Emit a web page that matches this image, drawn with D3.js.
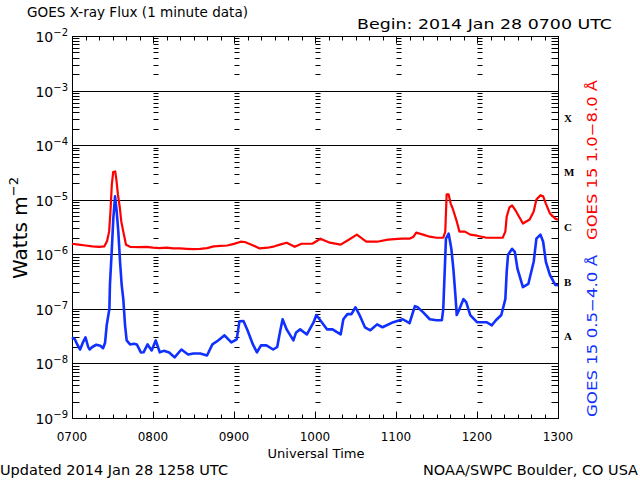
<!DOCTYPE html>
<html>
<head>
<meta charset="utf-8">
<script src="https://cdn.jsdelivr.net/npm/d3@7.9.0/dist/d3.min.js"></script>
<style>
  html, body { margin: 0; padding: 0; background: #fff; }
  svg { display: block; font-family: "DejaVu Sans", sans-serif; }
</style>
</head>
<body>
<svg id="chart" width="640" height="480"></svg>
<script>
// minutes after 0700 UTC, 2014 Jan 28
const longMinutes = [0, 5, 10, 15, 20, 24, 26, 27.5, 28.5, 29.5, 30.5, 32, 33, 34, 35.5, 36.5, 38, 40, 43, 50, 55, 60, 65, 70, 75, 80, 85, 90, 95, 100, 105, 110, 115, 120, 125, 128, 133, 139, 145, 150, 154, 159, 165, 170, 178, 184, 191, 199, 205, 211, 218, 226, 234, 244, 250, 253, 255, 260, 265, 270, 275, 276.5, 277.5, 279, 280.5, 282, 285, 287, 291, 295, 300, 307, 313, 319, 321, 322, 324, 326, 329, 334, 339, 342, 344, 347, 349, 351, 354, 358, 360];
const longFlux = [1.56e-6, 1.5e-6, 1.45e-6, 1.4e-6, 1.37e-6, 1.4e-6, 1.75e-6, 2.6e-6, 6.1e-6, 1.9e-5, 3.2e-5, 3.3e-5, 2.2e-5, 1.25e-5, 6.9e-6, 4.0e-6, 2.6e-6, 1.5e-6, 1.37e-6, 1.35e-6, 1.37e-6, 1.32e-6, 1.3e-6, 1.32e-6, 1.28e-6, 1.28e-6, 1.26e-6, 1.24e-6, 1.26e-6, 1.3e-6, 1.4e-6, 1.43e-6, 1.45e-6, 1.55e-6, 1.7e-6, 1.68e-6, 1.5e-6, 1.28e-6, 1.32e-6, 1.4e-6, 1.5e-6, 1.63e-6, 1.37e-6, 1.56e-6, 1.56e-6, 1.93e-6, 1.63e-6, 1.5e-6, 1.85e-6, 2.29e-6, 1.7e-6, 1.7e-6, 1.85e-6, 1.93e-6, 1.93e-6, 2.1e-6, 2.49e-6, 2.29e-6, 2.1e-6, 2.01e-6, 2.01e-6, 2.6e-6, 1.25e-5, 1.25e-5, 8.5e-6, 6.9e-6, 4.0e-6, 2.6e-6, 2.6e-6, 2.29e-6, 2.19e-6, 2.01e-6, 2.01e-6, 2.01e-6, 2.6e-6, 4.9e-6, 7.2e-6, 7.85e-6, 6.1e-6, 3.66e-6, 4.33e-6, 6.1e-6, 1.01e-5, 1.2e-5, 1.15e-5, 8.5e-6, 5.6e-6, 4.5e-6, 4.3e-6];

const shortMinutes = [0, 2, 4, 6, 8, 10, 12, 13, 15, 18, 21, 23, 24.5, 25.7, 27.7, 28.1, 29.4, 30.6, 31.9, 33.1, 34.3, 35.6, 36.8, 38, 39.3, 40.5, 43, 46, 48, 51, 53, 56, 59, 62, 65, 68, 72, 76, 81, 86, 90, 95, 100, 104, 108, 113, 118, 122, 124, 127, 130, 134, 137, 140, 144, 149, 152, 154, 156, 159, 164, 166, 169, 174, 179, 181, 185, 189, 193, 199, 201, 204, 207, 210, 213, 217, 221, 226, 230, 238, 245, 250, 254, 256, 260, 265, 270, 274, 275, 277, 279, 281, 282.5, 284, 285, 287, 290, 292, 295, 300, 307, 311, 314, 318, 321, 322, 323, 326, 328, 330, 334, 338, 342, 344, 347, 349, 351, 354, 358, 360];
const shortFlux = [3.0e-8, 2.8e-8, 2.2e-8, 1.8e-8, 2.4e-8, 3.0e-8, 2.0e-8, 1.8e-8, 2.0e-8, 2.2e-8, 2.1e-8, 1.9e-8, 2.4e-8, 5.0e-8, 1.0e-7, 2.74e-7, 1.11e-6, 4.5e-6, 1.15e-5, 6.1e-6, 2.6e-6, 7.3e-7, 2.74e-7, 1.51e-7, 5.0e-8, 2.64e-8, 2.23e-8, 2.3e-8, 2.23e-8, 1.59e-8, 1.6e-8, 2.23e-8, 1.73e-8, 2.64e-8, 1.6e-8, 1.7e-8, 1.59e-8, 1.29e-8, 1.8e-8, 1.46e-8, 1.52e-8, 1.52e-8, 1.4e-8, 2.23e-8, 2.6e-8, 3.27e-8, 2.43e-8, 2.76e-8, 5.9e-8, 6.0e-8, 4.05e-8, 2.23e-8, 1.59e-8, 2.14e-8, 2.14e-8, 1.8e-8, 2.0e-8, 3.7e-8, 6.45e-8, 4.2e-8, 2.64e-8, 3.7e-8, 4.2e-8, 3.4e-8, 5.7e-8, 7.7e-8, 5.7e-8, 4.2e-8, 4.2e-8, 3.4e-8, 6.45e-8, 8.0e-8, 8.0e-8, 1.07e-7, 7.7e-8, 4.6e-8, 4.05e-8, 5.2e-8, 4.6e-8, 5.7e-8, 6.45e-8, 5.45e-8, 1.12e-7, 1.07e-7, 8.7e-8, 6.45e-8, 6.2e-8, 6.2e-8, 9.9e-8, 1.93e-6, 2.39e-6, 1.26e-6, 5.4e-7, 1.79e-7, 7.7e-8, 9.9e-8, 1.51e-7, 1.33e-7, 7.7e-8, 5.7e-8, 5.7e-8, 5.0e-8, 6.2e-8, 7.7e-8, 1.51e-7, 4.75e-7, 9.8e-7, 1.26e-6, 1.11e-6, 5.4e-7, 2.51e-7, 2.86e-7, 7.3e-7, 1.93e-6, 2.29e-6, 1.7e-6, 7.3e-7, 4.2e-7, 2.74e-7, 2.7e-7];

const hourLabels = ['0700', '0800', '0900', '1000', '1100', '1200', '1300'];
const decades = [-9, -8, -7, -6, -5, -4, -3, -2];
const flareClasses = ['A', 'B', 'C', 'M', 'X'];

const svg = d3.select('#chart');
const plotL = 72, plotR = 558, plotT = 36, plotB = 418;

const x = d3.scaleLinear().domain([0, 360]).range([plotL, plotR]);
const y = d3.scaleLog().domain([1e-9, 1e-2]).range([plotB, plotT]);

// titles
svg.append('text').attr('x', 27).attr('y', 17).attr('font-size', 14)
  .attr('textLength', 221).attr('lengthAdjust', 'spacingAndGlyphs')
  .text('GOES X-ray Flux (1 minute data)');
svg.append('text').attr('x', 357).attr('y', 29).attr('font-size', 14)
  .attr('textLength', 255).attr('lengthAdjust', 'spacingAndGlyphs')
  .text('Begin: 2014 Jan 28 0700 UTC');

// decade grid lines
svg.append('g').selectAll('line')
  .data(decades.slice(1, -1))
  .join('line')
  .attr('x1', plotL).attr('x2', plotR)
  .attr('y1', (d) => Math.round(y(Math.pow(10, d))) + 0.5)
  .attr('y2', (d) => Math.round(y(Math.pow(10, d))) + 0.5)
  .attr('stroke', '#000');

// minor log ticks on left, right and at each hour
const minorVals = [];
decades.slice(0, -1).forEach((k) => {
  for (let m = 2; m <= 9; m++) minorVals.push(m * Math.pow(10, k));
});
const ticksG = svg.append('g').attr('stroke', '#000');
const tickCols = [
  { x0: plotL, len: 7 },
  { x0: plotR, len: -7 },
];
[60, 120, 180, 240, 300].forEach((mn) => tickCols.push({ x0: Math.round(x(mn)), len: 5 }));
tickCols.forEach((c) => {
  ticksG.append('g').selectAll('line')
    .data(minorVals)
    .join('line')
    .attr('x1', c.x0 + 0.5).attr('x2', c.x0 + 0.5 + c.len)
    .attr('y1', (d) => Math.round(y(d)) + 0.5)
    .attr('y2', (d) => Math.round(y(d)) + 0.5);
});

// time ticks every 10 min on top and bottom
const timeTicks = d3.range(0, 361, 10);
ticksG.append('g').selectAll('line')
  .data(timeTicks)
  .join('line')
  .attr('x1', (d) => Math.round(x(d)) + 0.5).attr('x2', (d) => Math.round(x(d)) + 0.5)
  .attr('y1', plotB + 0.5).attr('y2', (d) => plotB + 0.5 - (d % 60 === 0 ? 7 : 4));
ticksG.append('g').selectAll('line')
  .data(timeTicks)
  .join('line')
  .attr('x1', (d) => Math.round(x(d)) + 0.5).attr('x2', (d) => Math.round(x(d)) + 0.5)
  .attr('y1', plotT + 0.5).attr('y2', (d) => plotT + 0.5 + (d % 60 === 0 ? 7 : 4));

// frame
svg.append('rect').attr('x', plotL + 0.5).attr('y', plotT + 0.5)
  .attr('width', plotR - plotL).attr('height', plotB - plotT)
  .attr('fill', 'none').attr('stroke', '#000');

// y tick labels 10^k
const yLab = svg.append('g').attr('font-size', 14).attr('text-anchor', 'end');
decades.forEach((k) => {
  const t = yLab.append('text').attr('x', 68).attr('y', y(Math.pow(10, k)) + 6);
  t.append('tspan').text('10');
  t.append('tspan').attr('dy', -6).attr('font-size', 10).text('\u2212' + (-k));
});

// x tick labels
svg.append('g').attr('font-size', 12).attr('text-anchor', 'middle')
  .selectAll('text')
  .data(hourLabels)
  .join('text')
  .attr('x', (d, i) => x(i * 60))
  .attr('y', 441)
  .text((d) => d);
svg.append('text').attr('x', 316).attr('y', 458).attr('font-size', 12)
  .attr('text-anchor', 'middle')
  .attr('textLength', 97).attr('lengthAdjust', 'spacingAndGlyphs')
  .text('Universal Time');

// footer
svg.append('text').attr('x', 0).attr('y', 475).attr('font-size', 14)
  .attr('textLength', 228).attr('lengthAdjust', 'spacingAndGlyphs')
  .text('Updated 2014 Jan 28 1258 UTC');
svg.append('text').attr('x', 423).attr('y', 475).attr('font-size', 14)
  .attr('textLength', 215).attr('lengthAdjust', 'spacingAndGlyphs')
  .text('NOAA/SWPC Boulder, CO USA');

// y axis title
const yt = svg.append('text').attr('transform', 'translate(27,228) rotate(-90)')
  .attr('text-anchor', 'middle').attr('font-size', 20);
yt.append('tspan').text('Watts m');
yt.append('tspan').attr('dy', -9).attr('font-size', 13).text('\u22122');

// flare class letters at half decades
svg.append('g').attr('font-family', '"Liberation Serif", serif').attr('font-weight', 'bold')
  .attr('font-size', 11)
  .selectAll('text')
  .data(flareClasses)
  .join('text')
  .attr('x', 564)
  .attr('y', (d, i) => y(Math.pow(10, -7.5 + i)) + 4)
  .text((d) => d);

// series labels
svg.append('text').attr('transform', 'translate(597,160) rotate(-90)')
  .attr('text-anchor', 'middle').attr('font-size', 14).attr('fill', '#ff0000')
  .attr('textLength', 160).attr('lengthAdjust', 'spacingAndGlyphs')
  .text('GOES 15 1.0\u22128.0 \u00c5');
svg.append('text').attr('transform', 'translate(597,336) rotate(-90)')
  .attr('text-anchor', 'middle').attr('font-size', 14).attr('fill', '#1030ff')
  .attr('textLength', 162).attr('lengthAdjust', 'spacingAndGlyphs')
  .text('GOES 15 0.5\u22124.0 \u00c5');

// flux lines
const line = d3.line().x((d) => x(d[0])).y((d) => y(d[1]));
svg.append('path')
  .datum(d3.zip(longMinutes, longFlux))
  .attr('fill', 'none').attr('stroke', '#ff0000').attr('stroke-width', 2.2)
  .attr('stroke-linejoin', 'round')
  .attr('d', line);
svg.append('path')
  .datum(d3.zip(shortMinutes, shortFlux))
  .attr('fill', 'none').attr('stroke', '#1030ff').attr('stroke-width', 2.6)
  .attr('stroke-linejoin', 'round')
  .attr('d', line);
</script>
</body>
</html>
